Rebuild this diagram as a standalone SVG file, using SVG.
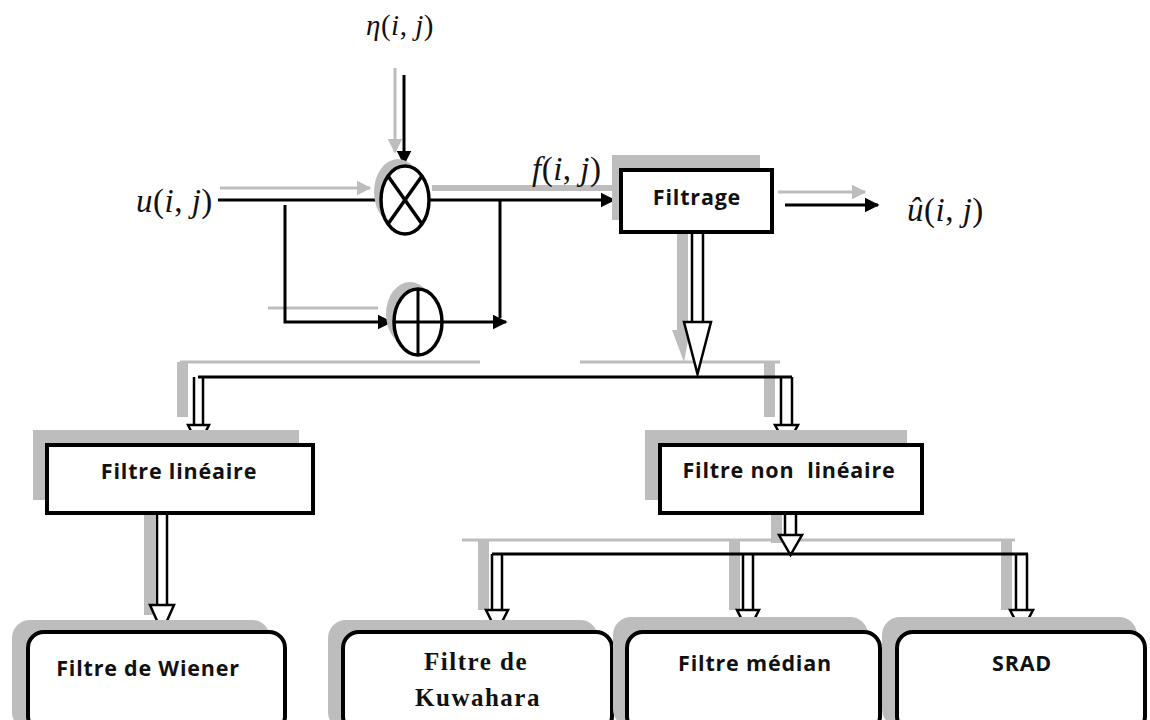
<svg xmlns="http://www.w3.org/2000/svg" width="1150" height="720" viewBox="0 0 1150 720">
<style>
.box{fill:#fff;stroke:#000;stroke-width:4}
.sh{fill:#bdbdbd;stroke:none}
.shl{stroke:#bdbdbd;fill:none}
.ln{stroke:#000;fill:none;stroke-width:3}
.lbl{font-family:"Open Sans","Liberation Sans",sans-serif;font-weight:bold;font-size:21.5px;letter-spacing:0.8px;fill:#111;text-anchor:middle}
.ser{font-family:"Liberation Serif",serif;font-weight:bold;font-size:25px;letter-spacing:1.5px;fill:#111;text-anchor:middle}
.math{font-family:"Liberation Serif",serif;font-size:33px;letter-spacing:0.5px;fill:#111}
.it{font-style:italic}
.dbl{stroke:#000;stroke-width:2.5;fill:none}
.head{fill:#fff;stroke:#000;stroke-width:2.5;stroke-linejoin:miter}
</style>
<defs>
<marker id="ar" viewBox="0 0 10 10" refX="9" refY="5" markerWidth="5" markerHeight="5" orient="auto" markerUnits="strokeWidth"><path d="M0,0 L10,5 L0,10 z" fill="#000"/></marker>
<marker id="arg" viewBox="0 0 10 10" refX="9" refY="5" markerWidth="5" markerHeight="5" orient="auto" markerUnits="strokeWidth"><path d="M0,0 L10,5 L0,10 z" fill="#bdbdbd"/></marker>
</defs>

<g id="connectors">
  <!-- shadows -->
  <line class="shl" x1="395" y1="68" x2="395" y2="152" stroke-width="3" marker-end="url(#arg)"/>
  <line class="shl" x1="220" y1="188" x2="370" y2="188" stroke-width="3" marker-end="url(#arg)"/>
  <line class="shl" x1="432" y1="188" x2="612" y2="188" stroke-width="6"/>
  <line class="shl" x1="268" y1="308" x2="378" y2="308" stroke-width="3"/>
  <line class="shl" x1="778" y1="192" x2="865" y2="192" stroke-width="3" marker-end="url(#arg)"/>
  <rect class="sh" x="677" y="232" width="11" height="110"/>
  <polygon class="sh" points="672,330 690,330 684,362"/>
  <line class="shl" x1="180" y1="362" x2="480" y2="362" stroke-width="3"/>
  <line class="shl" x1="580" y1="362" x2="780" y2="362" stroke-width="3"/>
  <rect class="sh" x="177" y="362" width="11" height="55"/>
  <rect class="sh" x="764" y="362" width="11" height="55"/>
  <rect class="sh" x="144" y="505" width="11" height="110"/>
  <rect class="sh" x="771" y="513" width="11" height="30"/>
  <line class="shl" x1="462" y1="540" x2="1015" y2="540" stroke-width="3"/>
  <rect class="sh" x="478" y="540" width="11" height="70"/>
  <rect class="sh" x="729" y="540" width="11" height="70"/>
  <rect class="sh" x="1001" y="540" width="11" height="70"/>

  <!-- eta input -->
  <line class="ln" x1="404" y1="75" x2="404" y2="164" marker-end="url(#ar)"/>
  <!-- u input to multiplier -->
  <line class="ln" x1="218" y1="200" x2="381" y2="200"/>
  <!-- branch down to adder -->
  <polyline class="ln" points="285,205 285,322 391,322" stroke-width="4" marker-end="url(#ar)"/>
  <!-- adder output -->
  <line class="ln" x1="442" y1="322" x2="506" y2="322" stroke-width="4" marker-end="url(#ar)"/>
  <line class="ln" x1="500" y1="200" x2="500" y2="318" stroke-width="4"/>
  <!-- multiplier to Filtrage -->
  <line class="ln" x1="430" y1="200" x2="614" y2="200" stroke-width="5" marker-end="url(#ar)"/>
  <!-- output -->
  <line class="ln" x1="785" y1="205" x2="878" y2="205" marker-end="url(#ar)"/>

  <!-- Filtrage to bus -->
  <path class="dbl" d="M692,233 V322 M703,233 V322"/>
  <polygon class="head" points="684,322 711,322 697.5,374"/>
  <!-- bus 1 -->
  <line class="ln" x1="198" y1="377" x2="792" y2="377"/>
  <path class="dbl" d="M194,377 V425 M203,377 V425"/>
  <polygon class="head" points="188,425 209,425 198.5,446"/>
  <path class="dbl" d="M781,377 V425 M792,377 V425"/>
  <polygon class="head" points="775,425 798,425 786.5,446"/>
  <!-- linear to Wiener -->
  <path class="dbl" d="M157,513 V605 M167,513 V605"/>
  <polygon class="head" points="150,605 174,605 162,632"/>
  <!-- nonlinear to bus 2 -->
  <path class="dbl" d="M785,513 V535 M796,513 V535"/>
  <polygon class="head" points="779,535 802,535 790.5,555"/>
  <line class="ln" x1="492" y1="554" x2="1028" y2="554"/>
  <path class="dbl" d="M492,554 V610 M502,554 V610"/>
  <polygon class="head" points="486,610 508,610 497,632"/>
  <path class="dbl" d="M743,554 V610 M753,554 V610"/>
  <polygon class="head" points="737,610 759,610 748,632"/>
  <path class="dbl" d="M1016,554 V610 M1027,554 V610"/>
  <polygon class="head" points="1010,610 1033,610 1021.5,632"/>
</g>

<g id="eta-label"><text class="math" x="366" y="35" style="font-size:29px"><tspan class="it">η</tspan>(<tspan class="it">i</tspan>, <tspan class="it">j</tspan>)</text></g>
<g id="u-label"><text class="math" x="136" y="212"><tspan class="it">u</tspan>(<tspan class="it">i</tspan>, <tspan class="it">j</tspan>)</text></g>
<g id="f-label"><text class="math" x="532" y="180"><tspan class="it">f</tspan>(<tspan class="it">i</tspan>, <tspan class="it">j</tspan>)</text></g>
<g id="uhat-label"><text class="math" x="907" y="221"><tspan class="it">û</tspan>(<tspan class="it">i</tspan>, <tspan class="it">j</tspan>)</text></g>

<g id="multiplier">
  <ellipse cx="398" cy="192" rx="24" ry="33" class="sh"/>
  <ellipse cx="405" cy="200" rx="24" ry="34" fill="#fff" stroke="#000" stroke-width="3.5"/>
  <line x1="388" y1="176" x2="422" y2="224" stroke="#000" stroke-width="3.5"/>
  <line x1="422" y1="176" x2="388" y2="224" stroke="#000" stroke-width="3.5"/>
</g>

<g id="adder">
  <ellipse cx="410" cy="314" rx="24" ry="32" class="sh"/>
  <ellipse cx="418" cy="322" rx="24" ry="33" fill="#fff" stroke="#000" stroke-width="3.5"/>
  <line x1="418" y1="289" x2="418" y2="355" stroke="#000" stroke-width="3"/>
  <line x1="394" y1="322" x2="442" y2="322" stroke="#000" stroke-width="3"/>
</g>

<g id="filtrage">
  <rect class="sh" x="612" y="155" width="148" height="65"/>
  <rect class="box" x="621" y="170" width="151" height="62"/>
  <text class="lbl" x="697" y="205">Filtrage</text>
</g>

<g id="filtre-lineaire">
  <rect class="sh" x="33" y="430" width="266" height="70"/>
  <rect class="box" x="47" y="445" width="266" height="68"/>
  <text class="lbl" x="179" y="479">Filtre linéaire</text>
</g>

<g id="filtre-non-lineaire">
  <rect class="sh" x="645" y="430" width="262" height="70"/>
  <rect class="box" x="660" y="445" width="262" height="68"/>
  <text class="lbl" x="789" y="478" xml:space="preserve">Filtre non  linéaire</text>
</g>

<g id="wiener">
  <rect class="sh" x="12" y="620" width="258" height="110" rx="18"/>
  <rect class="box" x="28" y="632" width="257" height="100" rx="16"/>
  <text class="lbl" x="148" y="676">Filtre de Wiener</text>
</g>

<g id="kuwahara">
  <rect class="sh" x="328" y="620" width="270" height="110" rx="18"/>
  <rect class="box" x="343" y="632" width="269" height="100" rx="16"/>
  <text class="ser" x="476" y="670">Filtre de</text>
  <text class="ser" x="478" y="706">Kuwahara</text>
</g>

<g id="median">
  <rect class="sh" x="613" y="617" width="255" height="110" rx="18"/>
  <rect class="box" x="627" y="632" width="253" height="100" rx="16"/>
  <text class="lbl" x="755" y="671">Filtre médian</text>
</g>

<g id="srad">
  <rect class="sh" x="882" y="617" width="255" height="110" rx="18"/>
  <rect class="box" x="897" y="632" width="248" height="100" rx="16"/>
  <text class="lbl" x="1022" y="671">SRAD</text>
</g>
</svg>
